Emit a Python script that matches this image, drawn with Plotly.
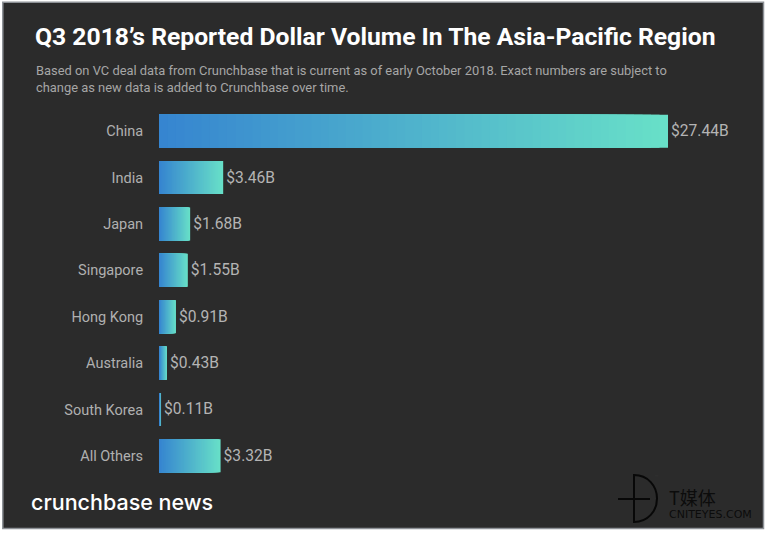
import plotly.graph_objects as go

categories = ["China", "India", "Japan", "Singapore", "Hong Kong", "Australia", "South Korea", "All Others"]
values = [27.44, 3.46, 1.68, 1.55, 0.91, 0.43, 0.11, 3.32]
value_labels = ["$27.44B", "$3.46B", "$1.68B", "$1.55B", "$0.91B", "$0.43B", "$0.11B", "$3.32B"]

W, H = 768, 533
L, R, T, B = 159, 40, 108, 54
PX_PER_UNIT = 18.55
GRAD_A, GRAD_B = (54, 133, 208), (104, 224, 200)
STEPS = 60
FONT = "Roboto"

def px(x): return (x - L) / (W - L - R)
def py(y): return 1 - (y - T) / (H - T - B)

fig = go.Figure()
# Overlaid bars, longest first, so each bar shows a left-to-right gradient.
for i in range(STEPS, 0, -1):
    t = (i - 1) / (STEPS - 1)
    c = tuple(round(a + (b - a) * t) for a, b in zip(GRAD_A, GRAD_B))
    fig.add_trace(go.Bar(
        y=categories, x=[v * i / STEPS for v in values], orientation="h",
        marker=dict(color=f"rgb{c}", line_width=0), showlegend=False, hoverinfo="skip",
        text=value_labels if i == STEPS else None,
        textposition="outside" if i == STEPS else None,
        textfont=dict(family=FONT, size=15.6, color="#b4b4b4"),
        cliponaxis=False,
    ))

shapes = [
    dict(type="rect", xref="paper", yref="paper", x0=px(2.8), x1=px(763.5), y0=py(2.2), y1=py(528.5),
         line=dict(color="#8d9196", width=1.5), fillcolor="#2b2b2b", layer="below"),
    dict(type="path", xref="paper", yref="paper", line=dict(color="#080808", width=2),
         path=(f"M {px(634)} {py(475)} L {px(634)} {py(522)} "
               f"C {px(648)} {py(522)} {px(657)} {py(511)} {px(657)} {py(498.5)} "
               f"C {px(657)} {py(486)} {px(648)} {py(475)} {px(634)} {py(475)} Z")),
    dict(type="line", xref="paper", yref="paper", x0=px(618), x1=px(650), y0=py(499), y1=py(499),
         line=dict(color="#080808", width=2)),
]

def note(x, y, text, size, color, family=FONT, weight=None):
    return dict(xref="paper", yref="paper", x=px(x), y=py(y), text=text, showarrow=False,
                xanchor="left", yanchor="middle", align="left", borderpad=0, borderwidth=0,
                font=dict(family=family, size=size, color=color, weight=weight))

annotations = [
    note(35, 36.5, "<b>Q3 2018’s Reported Dollar Volume In The Asia-Pacific Region</b>", 24.7, "#ffffff"),
    note(35.5, 71, "Based on VC deal data from Crunchbase that is current as of early October 2018. Exact numbers are subject to", 12.9, "#a6a6a6"),
    note(35.5, 88, "change as new data is added to Crunchbase over time.", 12.9, "#a6a6a6"),
    note(31, 502, "crunchbase news", 21.5, "#ffffff", family="Inter", weight=500),
    note(669, 496.5, "T媒体", 18, "#0c0c0c", family="Noto Sans CJK SC"),
    note(669, 514.5, "CNITEYES.COM", 11, "#0c0c0c", family="DejaVu Sans"),
    note(655, 476, "™", 6, "#333333"),
]

fig.update_layout(
    width=W, height=H, autosize=False, barmode="overlay", bargap=0.29,
    margin=dict(l=L, r=R, t=T, b=B, pad=0),
    paper_bgcolor="#ffffff", plot_bgcolor="rgba(0,0,0,0)",
    xaxis=dict(range=[0, (W - L - R) / PX_PER_UNIT], visible=False, fixedrange=True),
    yaxis=dict(categoryorder="array", categoryarray=categories[::-1], showgrid=False, zeroline=False,
               showline=False, ticks="outside", ticklen=12, tickcolor="rgba(0,0,0,0)",
               tickfont=dict(family=FONT, size=14.5, color="#b0b0b0"), fixedrange=True),
    shapes=shapes, annotations=annotations, showlegend=False,
    font=dict(family=FONT),
)
fig.write_html("out.html", config={"displayModeBar": False},
               post_script="document.body.style.margin='0';")
